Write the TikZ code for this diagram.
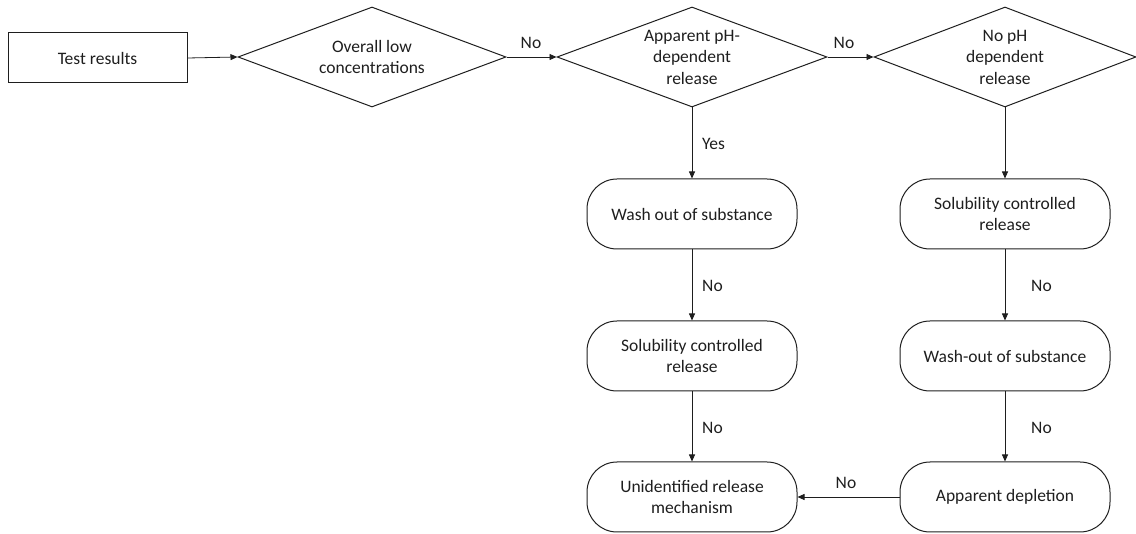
\documentclass[tikz,border=0pt]{standalone}
\usepackage{fontspec}
\setmainfont{Carlito}
\usetikzlibrary{shapes.geometric,arrows.meta}
\definecolor{ink}{RGB}{30,30,30}
\tikzset{
  every node/.style={font=\fontsize{17.5}{21.5}\selectfont, text=ink},
  box/.style={draw=ink, line width=1pt, rectangle, minimum width=179pt, minimum height=50pt, inner sep=0pt},
  decision/.style={draw=ink, line width=1pt, diamond, inner sep=0pt, minimum height=100pt},
  term/.style={draw=ink, line width=1pt, rectangle, rounded corners=30pt, minimum width=210pt, minimum height=70pt, inner sep=0pt, align=center},
  conn/.style={draw=ink, line width=0.8pt, -{Triangle[length=7pt,width=6pt]}},
  lbl/.style={inner sep=0pt}
}
\begin{document}
\begin{tikzpicture}[x=1pt,y=1pt]
\useasboundingbox (0,0) rectangle (1136,-534);
% nodes
\node[box] (test) at (97.5,-58) {Test results};
\node[decision, minimum width=268pt, label={[align=center]center:Overall low\\concentrations}] (d1) at (372,-57) {};
\node[decision, minimum width=270pt, label={[align=center]center:Apparent pH-\\dependent\\release}] (d2) at (692,-57) {};
\node[decision, minimum width=262pt, label={[align=center]center:No pH\\dependent\\release}] (d3) at (1005,-57) {};
\node[term] (L1) at (692,-214) {Wash out of substance};
\node[term] (L2) at (692,-356) {Solubility controlled\\release};
\node[term] (L3) at (692,-497) {Unidentified release\\mechanism};
\node[term] (R1) at (1005,-214) {Solubility controlled\\release};
\node[term] (R2) at (1005,-356) {Wash-out of substance};
\node[term] (R3) at (1005,-497) {Apparent depletion};
% labels
\node[lbl] (no1) at (531,-43) {No};
\node[lbl] (no2) at (844,-43) {No};
\node[lbl, anchor=west] (yes1) at (702,-144) {Yes};
\node[lbl, anchor=west] (no3) at (702,-286) {No};
\node[lbl, anchor=west] (no4) at (702,-428) {No};
\node[lbl, anchor=west] (no5) at (1031,-286) {No};
\node[lbl, anchor=west] (no6) at (1031,-428) {No};
\node[lbl] (no7) at (846,-483) {No};
% connectors
\draw[conn] (test.east) -- (d1.west);
\draw[conn] (d1.east) -- (d2.west);
\draw[conn] (d2.east) -- (d3.west);
\draw[conn] (d2.south) -- (L1.north);
\draw[conn] (L1.south) -- (L2.north);
\draw[conn] (L2.south) -- (L3.north);
\draw[conn] (d3.south) -- (R1.north);
\draw[conn] (R1.south) -- (R2.north);
\draw[conn] (R2.south) -- (R3.north);
\draw[conn] (R3.west) -- (L3.east);
\end{tikzpicture}
\end{document}
